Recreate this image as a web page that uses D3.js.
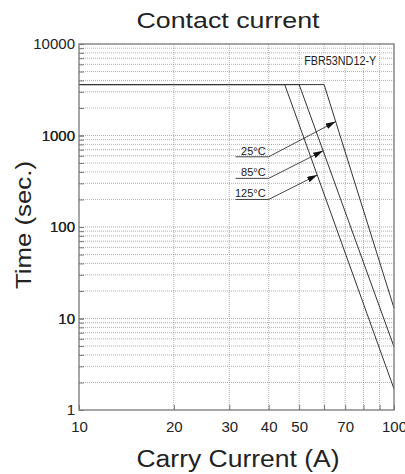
<!DOCTYPE html>
<html lang="en">
<head>
<meta charset="utf-8">
<title>Contact current</title>
<script src="https://d3js.org/d3.v7.min.js"></script>
<style>
  body { margin: 0; background: #fff; }
  text { font-family: "Liberation Sans", Arial, sans-serif; fill: #222; }
  .grid line { stroke: #9a9a9a; stroke-width: 0.8; stroke-dasharray: 1,1; }
  .axis text { font-size: 15px; }
  .axis line { stroke: #777; }
  .axis path { display: none; }
  .curve { fill: none; stroke: #333; stroke-width: 1; }
  .lead { stroke: #333; stroke-width: 0.9; }
</style>
</head>
<body>
<svg width="405" height="474"></svg>
<script>
// tick labels
var xTicks = [10, 20, 30, 40, 50, 70, 100];
var yTicks = [1, 10, 100, 1000, 10000];

// curves: plateau at 3600 s up to the knee current, then falling to 100 A
var temps = ["25°C", "85°C", "125°C"];
var plateau = 3600;
var kneeCurrent = [60, 50, 45];
var endTime = [13, 4.9, 1.7];

// callouts: time where the underline sits, time where the arrow hits the curve
var labelTime = [585, 340, 200];
var arrowTime = [1420, 680, 370];
var model = "FBR53ND12-Y";

var svg = d3.select("svg"),
  margin = {top: 44, right: 11, bottom: 64, left: 79},
  width = +svg.attr("width") - margin.left - margin.right,
  height = +svg.attr("height") - margin.top - margin.bottom,
  g = svg.append("g").attr("transform", "translate(" + margin.left + "," + margin.top + ")");

var x = d3.scaleLog().domain([10, 100]).range([0, width]);
var y = d3.scaleLog().domain([1, 10000]).range([height, 0]);

// grade pontilhada
var xGrid = d3.range(20, 100, 10);
var yGrid = [];
[1, 10, 100, 1000].forEach(function(d) {
  for (var k = 2; k <= 10; k++) if (k * d < 10000) yGrid.push(k * d);
});

var grid = g.append("g").attr("class", "grid");
grid.selectAll(".gx").data(xGrid).enter().append("line")
  .attr("x1", d => x(d)).attr("x2", d => x(d))
  .attr("y1", 0).attr("y2", height);
grid.selectAll(".gy").data(yGrid).enter().append("line")
  .attr("x1", 0).attr("x2", width)
  .attr("y1", d => y(d)).attr("y2", d => y(d));

// axes with short inner ticks
g.append("g").attr("class", "axis")
  .attr("transform", "translate(0," + height + ")")
  .call(d3.axisBottom(x).tickValues(d3.range(10, 101, 10)).tickSize(-5).tickPadding(11)
    .tickFormat(d => xTicks.indexOf(d) >= 0 ? d : ""));
g.append("g").attr("class", "axis")
  .call(d3.axisLeft(y).tickValues(yGrid.concat(yTicks)).tickSize(-5).tickPadding(4)
    .tickFormat(d => yTicks.indexOf(d) >= 0 ? d : ""));

// label do modelo
var mx = x(67.5), my = 21;
g.append("rect").attr("x", mx - 38).attr("y", my - 11).attr("width", 76).attr("height", 14)
  .attr("fill", "#fff");
g.append("text").attr("x", mx).attr("y", my).attr("text-anchor", "middle")
  .style("font-size", "12px").attr("textLength", 72).attr("lengthAdjust", "spacingAndGlyphs")
  .text(model);

// curves
var line = d3.line().x(d => x(d[0])).y(d => y(d[1]));
var curves = temps.map((t, i) => [[10, plateau], [kneeCurrent[i], plateau], [100, endTime[i]]]);
g.selectAll(".curve").data(curves).enter().append("path")
  .attr("class", "curve").attr("d", line);

// arrow marker
svg.append("defs").append("marker")
  .attr("id", "arrow").attr("viewBox", "0 0 10 6").attr("refX", 10).attr("refY", 3)
  .attr("markerWidth", 10).attr("markerHeight", 6).attr("markerUnits", "userSpaceOnUse")
  .attr("orient", "auto")
  .append("path").attr("d", "M0,0L10,3L0,6Z").attr("fill", "#111");

function currentAt(i, t) {
  var a = Math.log10(kneeCurrent[i]), p = Math.log10(plateau), e = Math.log10(endTime[i]);
  return Math.pow(10, a + (p - Math.log10(t)) / (p - e) * (2 - a));
}

var uStart = 31.4, uEnd = 40;
temps.forEach(function(t, i) {
  var ly = y(labelTime[i]);
  g.append("line").attr("class", "lead")
    .attr("x1", x(uStart)).attr("x2", x(uEnd)).attr("y1", ly).attr("y2", ly);
  g.append("line").attr("class", "lead")
    .attr("x1", x(uEnd)).attr("y1", ly)
    .attr("x2", x(currentAt(i, arrowTime[i]))).attr("y2", y(arrowTime[i]))
    .attr("marker-end", "url(#arrow)");
  g.append("text").attr("x", x(uEnd) - 3).attr("y", ly - 2)
    .attr("text-anchor", "end").style("font-size", "11px").text(t);
});

// plot border
g.append("rect").attr("width", width).attr("height", height)
  .attr("fill", "none").attr("stroke", "#777").attr("stroke-width", 1.3);

// titles
svg.append("text").attr("x", 228).attr("y", 28).attr("text-anchor", "middle")
  .style("font-size", "22px").attr("textLength", 183).attr("lengthAdjust", "spacingAndGlyphs")
  .text("Contact current");
svg.append("text").attr("transform", "translate(31,225) rotate(-90)").attr("text-anchor", "middle")
  .style("font-size", "22px").attr("textLength", 128).attr("lengthAdjust", "spacingAndGlyphs")
  .text("Time (sec.)");
svg.append("text").attr("x", 238).attr("y", 467).attr("text-anchor", "middle")
  .style("font-size", "23px").attr("textLength", 203).attr("lengthAdjust", "spacingAndGlyphs")
  .text("Carry Current (A)");
</script>
</body>
</html>
